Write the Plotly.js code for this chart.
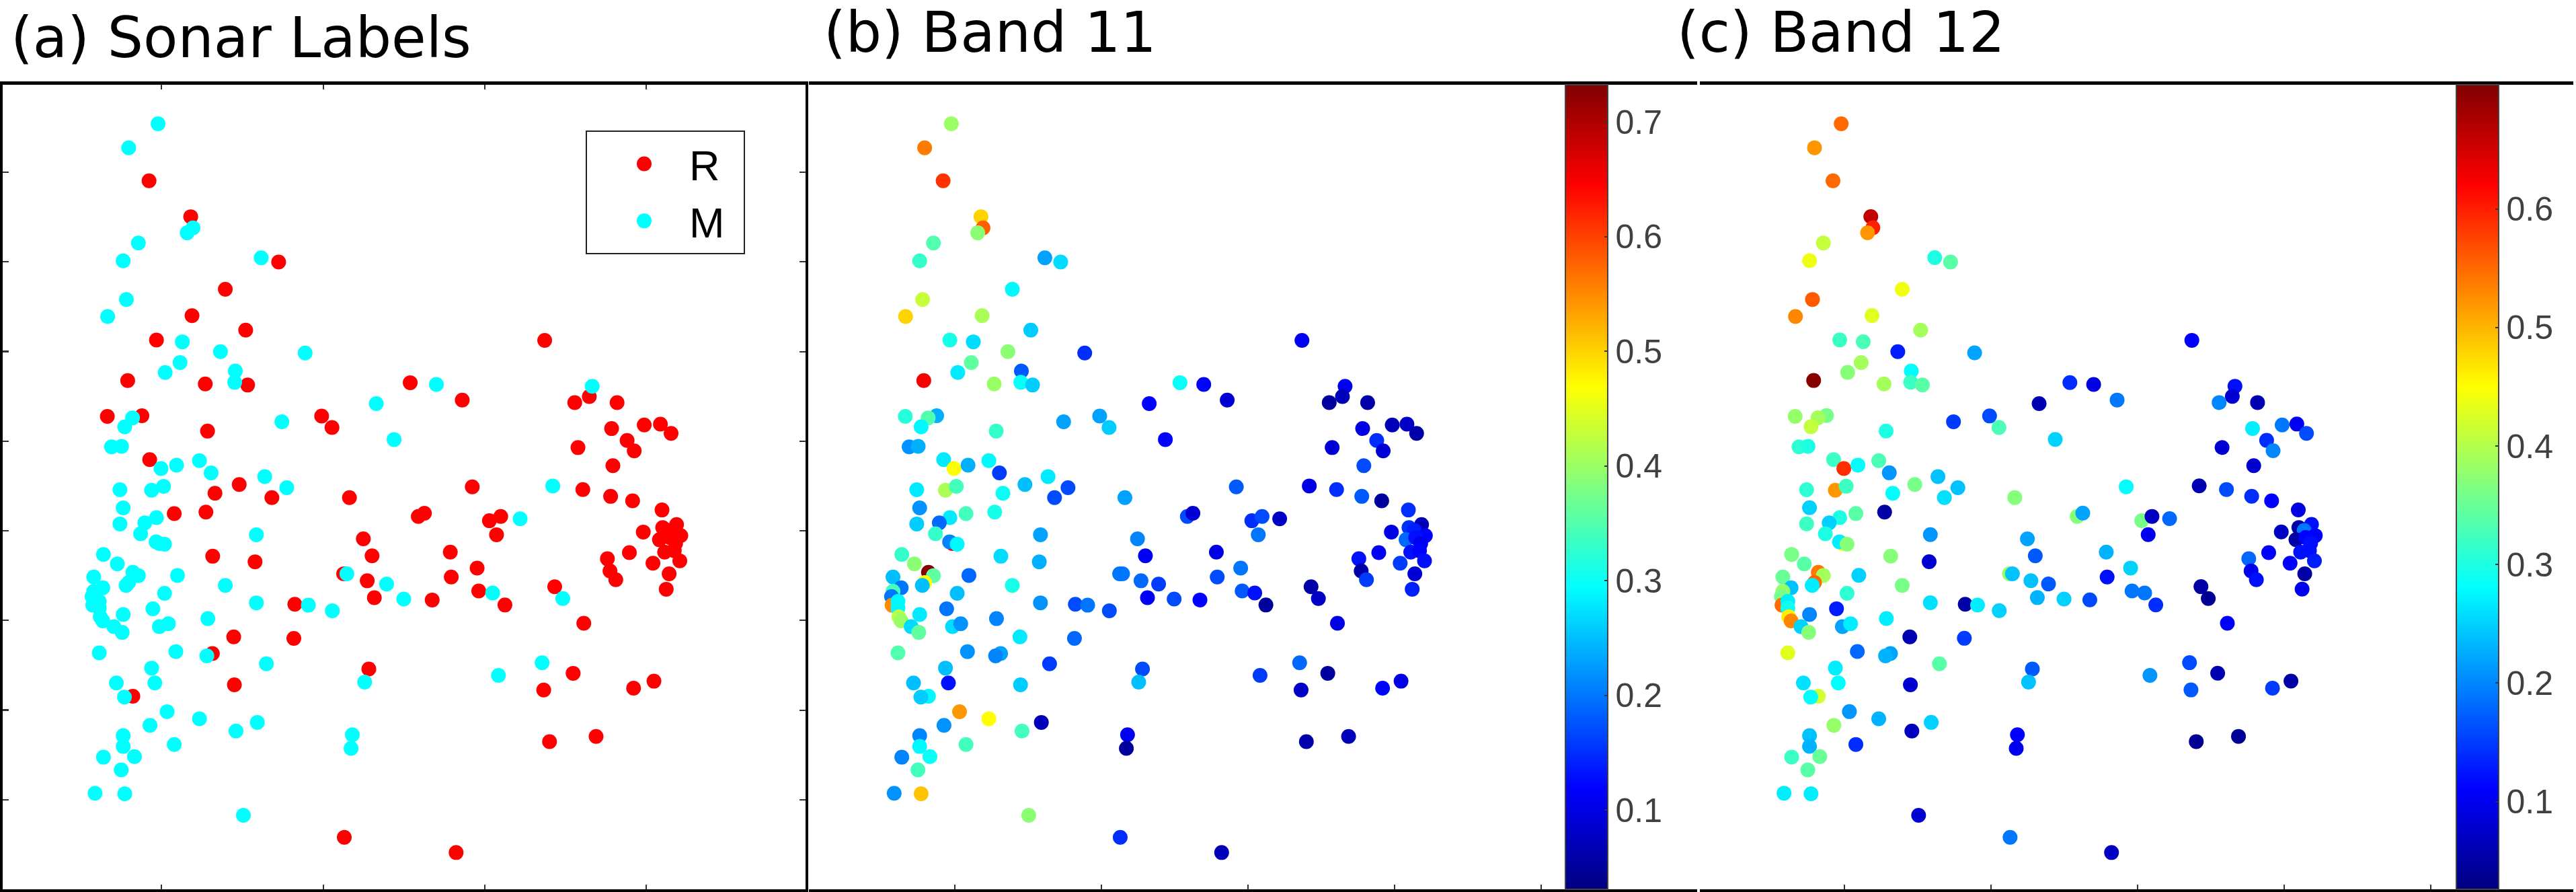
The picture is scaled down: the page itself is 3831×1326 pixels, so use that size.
<!DOCTYPE html>
<html><head><meta charset="utf-8">
<script src="https://cdn.plot.ly/plotly-3.0.1.min.js"></script>
<style>html,body{margin:0;padding:0;background:#fff}#g{width:3831px;height:1326px}</style>
</head><body><div id="g"></div>
<script>
const embedX=[4.89,3.98,4.61,5.90,5.97,5.79,4.28,3.81,8.08,8.62,6.97,3.91,3.33,5.94,7.60,4.84,5.64,6.82,9.44,5.57,5.11,7.28,3.95,6.35,7.26,7.66,12.69,13.50,11.64,14.30,16.85,18.32,18.23,17.78,19.09,3.32,4.39,4.10,3.86,6.42,8.72,9.95,10.27,12.19,18.92,19.93,20.43,20.76,19.40,17.88,19.62,
18.96,3.45,3.76,4.63,4.98,5.46,6.17,6.53,8.19,7.40,8.87,8.41,6.65,3.71,4.69,5.06,10.81,14.61,17.10,18.03,18.89,19.57,20.48,3.81,5.39,6.37,4.84,4.48,3.71,4.35,7.93,12.94,13.13,15.14,15.49,16.09,15.36,11.24,4.93,4.83,5.09,19.90,
20.93,20.50,20.68,21.06,20.40,20.73,20.90,20.56,20.86,19.47,18.79,20.20,21.03,20.70,20.61,18.87,19.05,
6.58,7.89,13.93,11.51,14.76,10.63,10.73,11.36,11.96,13.96,14.81,15.24,11.58,12.49,13.37,15.62,17.16,17.41,18.06,
3.20,3.63,4.11,4.28,5.49,2.90,3.98,3.90,6.97,3.18,2.90,5.09,2.85,7.93,9.12,9.54,10.28,2.87,3.07,3.07,4.73,3.81,6.43,3.10,3.18,3.52,3.78,4.93,5.21,7.23,9.09,3.07,5.44,6.57,6.40,8.24,4.69,11.41,11.28,16.77,17.73,15.42,16.82,19.60,20.23,3.60,4.79,7.25,4.11,3.85,5.17,6.17,4.64,7.96,7.30,3.81,10.90,5.39,10.86,17.00,18.44,3.81,3.20,4.16,3.75,2.94,3.86,7.53,10.65,14.11];
const embedY=[42.70,41.36,39.52,37.52,36.90,36.62,36.05,35.06,35.23,34.99,33.47,32.90,31.95,32.00,31.19,30.64,30.54,29.99,29.92,29.38,28.83,28.91,28.38,28.19,28.28,28.13,28.26,28.16,27.09,27.29,30.62,28.06,27.49,27.15,27.15,26.38,26.42,26.30,25.80,25.56,26.08,26.40,25.76,25.09,25.70,25.90,25.95,25.43,25.04,24.64,24.46,
23.63,24.68,24.71,23.97,23.47,23.66,23.91,23.23,23.02,22.58,22.40,21.85,22.09,22.29,22.26,22.48,21.85,22.45,22.50,22.30,21.92,21.67,21.16,21.28,20.96,21.04,20.73,20.44,20.38,19.83,19.78,20.80,20.98,20.56,20.80,20.67,19.78,19.55,19.29,19.38,19.25,19.93,
20.35,20.18,20.02,19.73,19.50,19.62,19.29,18.81,18.89,18.78,18.44,18.19,18.32,17.60,16.74,17.76,17.27,
18.58,18.27,18.81,18.60,17.92,17.60,17.60,17.21,17.03,17.42,16.64,16.53,16.27,16.19,16.14,15.86,16.88,16.22,14.84,
18.68,18.15,17.68,17.50,17.51,17.42,17.11,16.95,16.95,16.82,16.62,16.51,16.33,15.98,15.90,15.85,15.54,15.85,16.06,15.69,15.65,15.33,15.10,15.20,14.97,14.65,14.33,14.65,14.81,14.08,14.00,13.19,13.26,13.15,13.02,12.58,12.34,12.29,11.56,12.64,12.05,11.93,11.12,11.22,11.61,11.51,11.51,11.41,10.77,10.72,9.91,9.51,9.15,9.31,8.83,8.57,8.62,8.08,7.86,8.24,8.53,7.97,7.37,7.40,6.66,5.36,5.33,4.13,2.90,2.05];
const sonarClass=("MMRR MMMM MRRM MRRR MMMM MMRR MRRM MRRM RRRR RMMR MRRM RRRR RRR "+
"RMMRMMMMMR MRRMMMRRMR RRRMRRMMMM MRRRRMRRMM MR "+
"RRRRRRRRRRRRRRRRR "+
"RRRRRRMRMRRMRMRRRMR "+
"MMMMMMMMMMM MMMRMMMMMM MMMMMMMMRR MMRMMMRMMR MRRRMMRRMM MMMMMMMMRR MMMMMMMRR").replace(/ /g,"").split("");
const band11=[.40,.56,.61,.50,.58,.39,.35,.33,.23,.27,.29,.43,.50,.41,.26,.31,.27,.39,.15,.36,.28,.18,.65,.40,.30,.26,.30,.12,.12,.09,.11,.11,.07,.05,.06,.32,.24,.35,.29,.33,.23,.23,.26,.12,.10,.07,.08,.06,.15,.09,.09,
.17,.22,.24,.28,.47,.24,.29,.16,.28,.25,.17,.17,.30,.28,.41,.34,.23,.18,.10,.15,.18,.05,.15,.22,.34,.31,.28,.19,.26,.33,.23,.17,.09,.15,.17,.08,.20,.21,.65,.21,.29,.10,
.07,.15,.14,.12,.19,.13,.11,.13,.12,.11,.13,.16,.13,.09,.14,.06,.16,
.27,.24,.10,.11,.20,.20,.20,.19,.16,.17,.18,.13,.11,.17,.12,.05,.06,.08,.10,
.33,.39,.73,.36,.19,.25,.47,.25,.31,.20,.34,.25,.20,.22,.17,.20,.17,.55,.29,.29,.20,.28,.21,.42,.40,.27,.36,.27,.22,.28,.19,.35,.22,.23,.21,.16,.25,.17,.25,.19,.05,.16,.08,.12,.10,.25,.13,.26,.29,.26,.54,.47,.22,.07,.34,.21,.11,.34,.05,.06,.07,.29,.21,.30,.34,.22,.51,.39,.15,.07];
const band12=[.55,.52,.55,.66,.60,.52,.41,.44,.30,.34,.44,.56,.53,.43,.39,.32,.33,.13,.22,.39,.37,.28,.70,.39,.32,.34,.14,.09,.06,.19,.11,.12,.08,.20,.06,.38,.36,.39,.41,.30,.15,.16,.33,.25,.27,.19,.10,.16,.14,.08,.20,
.08,.31,.30,.32,.59,.28,.33,.21,.24,.36,.24,.26,.28,.31,.52,.32,.37,.28,.06,.16,.14,.11,.09,.25,.34,.05,.30,.25,.32,.30,.21,.37,.22,.36,.07,.18,.10,.22,.45,.27,.37,.07,
.12,.05,.19,.11,.05,.11,.12,.12,.12,.11,.18,.11,.13,.05,.10,.10,.12,
.37,.08,.23,.17,.25,.38,.24,.24,.17,.12,.19,.19,.23,.25,.16,.14,.05,.04,.11,
.36,.34,.54,.39,.25,.35,.55,.27,.36,.24,.38,.31,.36,.26,.05,.27,.25,.55,.27,.29,.13,.20,.27,.46,.53,.25,.37,.22,.27,.06,.15,.43,.18,.22,.23,.34,.27,.17,.24,.16,.06,.21,.17,.15,.05,.26,.28,.08,.42,.28,.21,.23,.38,.25,.07,.24,.11,.14,.10,.04,.04,.23,.32,.35,.34,.27,.27,.08,.19,.07];
const xTicksA=[5,10,15,20];
const xTicksBC=[5,10,15,20,25];
const yTicks=[5,10,15,20,25,30,35,40];
const cbTicks11=[.1,.2,.3,.4,.5,.6,.7];
const cbTicks12=[.1,.2,.3,.4,.5,.6];
const titles=["(a) Sonar Labels","(b) Band 11","(c) Band 12"];
const classNames=["R","M"];
const classColors=["#ff0000","#00ffff"];
const jet=[[0,"#000080"],[.125,"#0000ff"],[.375,"#00ffff"],[.625,"#ffff00"],[.875,"#ff0000"],[1,"#800000"]];

const W=3831,H=1326;
const px=(a,b)=>[a/W,b/W], py=(top,bot)=>[1-bot/H,1-top/H];
function axis(domain,range,tickvals,len,mirror,lw){
  return {domain,range,tickvals,ticktext:tickvals.map(()=>""),showticklabels:false,ticks:"inside",ticklen:len,tickwidth:2,tickcolor:"#333",
    showline:true,linecolor:"#000",linewidth:lw,mirror,showgrid:false,zeroline:false,fixedrange:true};
}
const traces=[];
classNames.forEach((c,k)=>{
  const idx=sonarClass.map((v,i)=>v===c?i:-1).filter(i=>i>=0);
  traces.push({type:"scatter",mode:"markers",name:c,x:idx.map(i=>embedX[i]),y:idx.map(i=>embedY[i]),xaxis:"x",yaxis:"y",
    marker:{size:22,color:classColors[k],line:{width:0}},hoverinfo:"skip"});
});
function bandTrace(vals,xa,ya,cmin,cmax,cbx,ticks){
  return {type:"scatter",mode:"markers",x:embedX,y:embedY,xaxis:xa,yaxis:ya,showlegend:false,hoverinfo:"skip",
    marker:{size:22,color:vals,cmin,cmax,colorscale:jet,showscale:true,line:{width:0},
      colorbar:{x:cbx/W,xanchor:"left",xpad:0,ypad:0,thicknessmode:"pixels",thickness:63,lenmode:"fraction",len:(1322-126)/H,y:1-1322/H,yanchor:"bottom",
        outlinewidth:2,outlinecolor:"#444",tickmode:"array",tickvals:ticks,ticktext:ticks.map(v=>v.toFixed(1)),ticks:"inside",ticklen:6,tickwidth:2,tickcolor:"#333",
        tickfont:{family:"Liberation Sans",size:50,color:"#404040"}}}};
}
traces.push(bandTrace(band11,"x2","y2",.031,.7325,2328,cbTicks11));
traces.push(bandTrace(band12,"x3","y3",.026,.7048,3653,cbTicks12));

const layout={width:W,height:H,autosize:false,margin:{l:0,r:0,t:0,b:0},paper_bgcolor:"#fff",plot_bgcolor:"#fff",showlegend:true,
  xaxis:axis(px(4,1198),[.083,24.92],xTicksA,7,"allticks",5),
  yaxis:axis(py(126,1322),[0,44.88],yTicks,9,"allticks",4),
  xaxis2:axis(px(1203,2524),[.032,30.33],xTicksBC,7,true,5),
  yaxis2:axis(py(126,1322),[0,44.88],yTicks,9,true,4),
  xaxis3:axis(px(2528,3827),[.069,29.86],xTicksBC,7,true,5),
  yaxis3:axis(py(124.5,1322),[0,44.93],yTicks,9,true,4),
  legend:{x:871/W,y:1-194/H,xanchor:"left",yanchor:"top",bgcolor:"#fff",bordercolor:"#222",borderwidth:2,
    font:{family:"Liberation Sans",size:63,color:"#000"},itemwidth:124,indentation:18,traceorder:"normal"},
  annotations:[
    {text:titles[0],xref:"paper",yref:"paper",x:14/W,y:1-5/H,xanchor:"left",yanchor:"top",showarrow:false,font:{family:"DejaVu Sans",size:84,color:"#000"}},
    {text:titles[1],xref:"paper",yref:"paper",x:1223/W,y:1+3/H,xanchor:"left",yanchor:"top",showarrow:false,font:{family:"DejaVu Sans",size:84,color:"#000"}},
    {text:titles[2],xref:"paper",yref:"paper",x:2492/W,y:1+3/H,xanchor:"left",yanchor:"top",showarrow:false,font:{family:"DejaVu Sans",size:84,color:"#000"}}
  ]};
Plotly.newPlot("g",traces,layout,{displayModeBar:false,staticPlot:true}).then(gd=>{
  // the library caps legend symbols at 16px; scale them up to the plotted marker size
  gd.querySelectorAll(".legend .legendpoints path.scatterpts").forEach(p=>{
    p.setAttribute("transform",(p.getAttribute("transform")||"")+" scale(1.375)");
  });
  // widen the legend frame to the reference's box
  gd.querySelectorAll(".legend rect.bg").forEach(r=>r.setAttribute("width",235));
});
</script></body></html>
